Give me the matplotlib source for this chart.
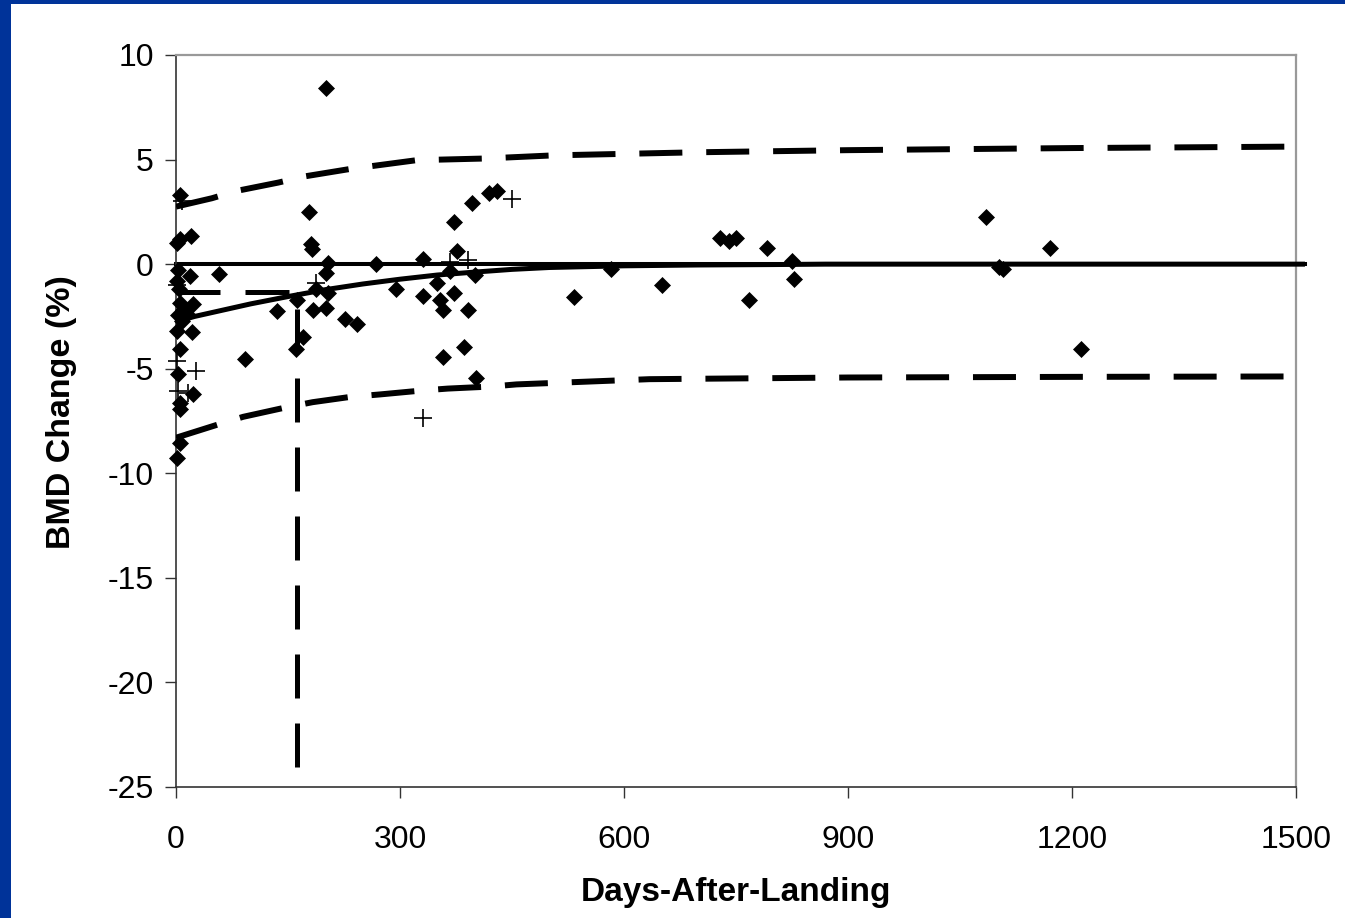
import numpy as np
import matplotlib
matplotlib.use('Agg')
import matplotlib.pyplot as plt
from matplotlib.patches import Rectangle

plt.rcParams.update({
    'font.family': ['Liberation Sans', 'DejaVu Sans'],
    'font.size': 22,
    'axes.unicode_minus': False,
})

# ── Data ────────────────────────────────────────────────────────────────
# individual measurements (diamonds)
dia_days = [5, 1, 5, 20, 3, 19, 57, 2, 4, 5, 23, 10, 3, 8, 15, 1, 21, 5, 92, 3,
            23, 5, 5, 5, 1,
            135, 161, 170, 162, 178, 181, 182, 201, 204, 201, 204, 187, 184, 201,
            226, 243, 268, 294, 331, 331, 350, 353, 358, 358, 367, 372, 372, 376,
            386, 391, 397, 400, 402, 419, 430,
            533, 582, 651, 728, 741, 750, 767, 792, 825, 828,
            1085, 1102, 1108, 1170, 1212]
dia_vals = [3.3, 1.0, 1.2, 1.35, -0.3, -0.55, -0.45, -0.8, -1.2, -1.85, -1.9,
            -2.2, -2.45, -2.7, -2.4, -3.2, -3.25, -4.05, -4.55, -5.25,
            -6.2, -6.65, -6.95, -8.55, -9.25,
            -2.25, -4.05, -3.5, -1.7, 2.5, 0.95, 0.72, 8.4, 0.05, -0.4, -1.4, -1.2,
            -2.2, -2.1,
            -2.6, -2.85, 0.0, -1.2, 0.25, -1.5, -0.9, -1.7, -2.2, -4.45, -0.35,
            -1.4, 2.0, 0.65,
            -3.95, -2.2, 2.9, -0.5, -5.45, 3.4, 3.5,
            -1.55, -0.25, -1.0, 1.25, 1.1, 1.25, -1.7, 0.75, 0.15, -0.7,
            2.25, -0.15, -0.25, 0.75, -4.05]

# second group (plus markers)
plus_days = [8, 2, 1, 27, 3, 16, 188, 367, 391, 450, 331]
plus_vals = [3.0, -1.0, -4.65, -5.1, -6.05, -6.15, -0.9, 0.1, 0.2, 3.1, -7.35]

# exponential recovery fit
fit_days = [0, 25, 50, 100, 150, 200, 250, 300, 350, 400, 450, 500, 600, 700,
            800, 870, 1000, 1200, 1512]
fit_vals = [-2.75, -2.5, -2.3, -1.9, -1.55, -1.22, -0.95, -0.72, -0.52, -0.38,
            -0.25, -0.16, -0.08, -0.04, -0.02, 0.0, 0.0, 0.0, 0.0]

# prediction bands
up_days = [0, 48, 81, 137, 173, 233, 322, 413, 505, 700, 900, 1200, 1500]
up_vals = [2.75, 3.15, 3.5, 3.9, 4.2, 4.55, 4.97, 5.05, 5.2, 5.35, 5.45, 5.55, 5.62]
lo_days = [0, 56, 90, 146, 183, 233, 273, 330, 364, 423, 456, 634, 900, 1200, 1500]
lo_vals = [-8.3, -7.67, -7.3, -6.86, -6.6, -6.35, -6.23, -6.04, -5.95, -5.85,
           -5.75, -5.5, -5.42, -5.39, -5.37]

# 50 % recovery marker
cut_days = [0, 162, 162]
cut_vals = [-1.35, -1.35, -25]

zero_days = [0, 1512]
zero_vals = [0, 0]

# ── Figure ──────────────────────────────────────────────────────────────
fig = plt.figure(figsize=(13.45, 9.18), dpi=100)
fig.patch.set_facecolor('#003399')
fig.patches.append(Rectangle((11 / 1345, 0), 1 - 11 / 1345, 1 - 4 / 918,
                             transform=fig.transFigure, facecolor='white',
                             edgecolor='none', zorder=-10))

ax = fig.add_axes([176 / 1345, 1 - 787 / 918, (1296 - 176) / 1345, (787 - 55) / 918])
ax.set_facecolor('white')

ax.plot(zero_days, zero_vals, '-', color='black', lw=2.9, clip_on=False, zorder=2)
ax.plot(fit_days, fit_vals, '-', color='black', lw=3.6, clip_on=False, zorder=3,
        solid_capstyle='butt')
ax.plot(up_days, up_vals, color='black', lw=4.3, dashes=(7.2, 4.0), zorder=3,
        dash_capstyle='butt')
ax.plot(lo_days, lo_vals, color='black', lw=4.3, dashes=(7.2, 4.0), zorder=3,
        dash_capstyle='butt')
ax.plot(cut_days, cut_vals, color='black', lw=3.6, dashes=(8.8, 5.0), zorder=3,
        dash_capstyle='butt', clip_on=False)

ax.plot(dia_days, dia_vals, 'D', color='black', ms=8.2, mew=0.5, zorder=4,
        clip_on=False)
ax.plot(plus_days, plus_vals, '+', color='black', ms=13, mew=1.2, zorder=4,
        clip_on=False)

ax.set_xlim(0, 1500)
ax.set_ylim(-25, 10)
ax.set_xticks(np.arange(0, 1501, 300))
ax.set_yticks(np.arange(-25, 11, 5))

for side in ['top', 'right']:
    ax.spines[side].set_color('#999999')
    ax.spines[side].set_linewidth(1.6)
for side in ['left', 'bottom']:
    ax.spines[side].set_color('#333333')
    ax.spines[side].set_linewidth(1.2)

ax.tick_params(axis='both', direction='out', length=8, width=1, color='#333333',
               labelsize=23)
ax.tick_params(axis='x', pad=19)
ax.tick_params(axis='y', pad=8)

ax.set_xlabel('Days-After-Landing', fontsize=24, fontweight='bold', va='center')
ax.set_ylabel('BMD Change (%)', fontsize=24.5, fontweight='bold', va='center')
ax.xaxis.set_label_coords(0.5, -(893 - 787) / 732)
ax.yaxis.set_label_coords(-(176 - 62) / 1120, (787 - 412) / 732)

fig.savefig('out.png', dpi=100, facecolor=fig.get_facecolor())
